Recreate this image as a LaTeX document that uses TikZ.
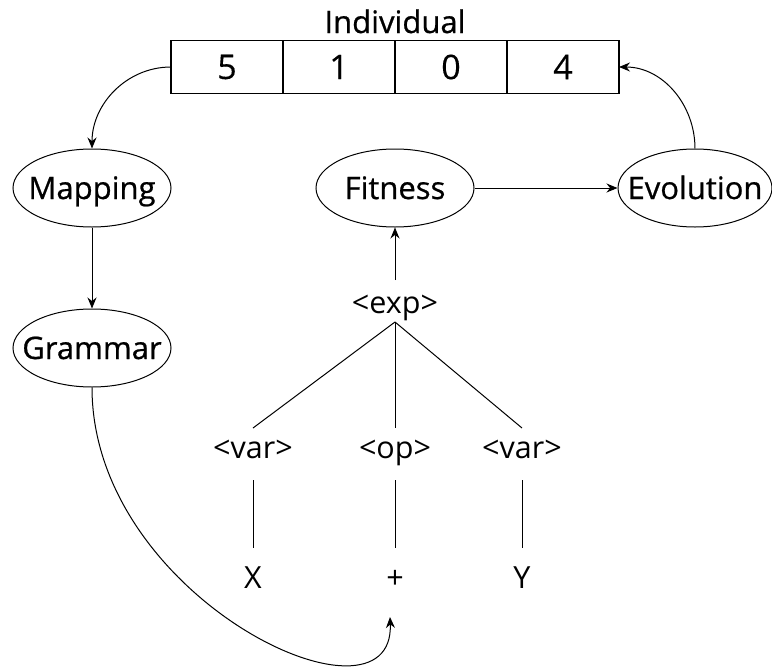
\documentclass[tikz,border=0pt]{standalone}
\usepackage{fontspec}
\setmainfont{Open Sans}
\newfontfamily\semib[FakeBold=0.7]{Open Sans}
\newfontfamily\medf[FakeBold=0.3]{Open Sans}
\usetikzlibrary{shapes.geometric,arrows.meta,calc}
\begin{document}
\begin{tikzpicture}[x=1pt,y=-1pt,
  every node/.style={font=\fontsize{30.5}{36}\selectfont},
  proc/.style={ellipse,draw,line width=1pt,inner sep=0pt,minimum width=158pt,minimum height=78pt},
  ptext/.style={inner sep=0pt,text height=26pt,text depth=4pt,font=\semib\fontsize{31}{36}\selectfont},
  cell/.style={rectangle,draw,line width=1.3pt,minimum width=112pt,minimum height=53pt,inner sep=0pt,outer sep=0pt,font=\medf\fontsize{34}{40}\selectfont},
  conn/.style={line width=1pt},
  arr/.style={conn,-{Stealth[length=11pt,width=9pt]}},
  lbl/.style={anchor=base,inner sep=0pt}]
\useasboundingbox (0,0) rectangle (772,667);
% individual
\node[cell] (c1) at (227,67) {5};
\node[cell] (c2) at (339,67) {1};
\node[cell] (c3) at (451,67) {0};
\node[cell] (c4) at (563,67) {4};
\node[ptext,text height=,text depth=,anchor=base] (title) at (395,33) {Individual};
% processes
\node[proc] (map) at (92,188) {};
\node[ptext] (mapt) at (map.center) {Mapping};
\node[proc] (gram) at (92,348) {};
\node[ptext] (gramt) at (gram.center) {Grammar};
\node[proc] (fit) at (395,188) {};
\node[ptext] (fitt) at (fit.center) {Fitness};
\node[proc,minimum width=154pt] (evo) at (695,188) {};
\node[ptext] (evot) at (evo.center) {Evolution};
% tree
\node[lbl] (exp) at (395,313) {<exp>};
\node[lbl] (v1) at (253,458) {<var>};
\node[lbl] (op) at (395,458) {<op>};
\node[lbl] (v2) at (522,458) {<var>};
\node[lbl] (x) at (253,588) {X};
\node[lbl] (plus) at (395,588) {+};
\node[lbl] (y) at (522,588) {Y};
% tree edges
\draw[conn] ($(exp.base)+(0,9)$) -- ($(v1.base)+(0,-30)$);
\draw[conn] ($(exp.base)+(0,9)$) -- ($(op.base)+(0,-30)$);
\draw[conn] ($(exp.base)+(0,9)$) -- ($(v2.base)+(0,-30)$);
\draw[conn] ($(v1.base)+(0,22)$) -- ($(x.base)+(0,-40)$);
\draw[conn] ($(op.base)+(0,22)$) -- ($(plus.base)+(0,-40)$);
\draw[conn] ($(v2.base)+(0,22)$) -- ($(y.base)+(0,-40)$);
% arrows
\draw[arr] ($(exp.base)+(0,-33)$) -- (fit.south);
\draw[arr] (fit.east) -- (evo.west);
\draw[arr] (map.south) -- (gram.north);
\draw[arr] (c1.west) to[out=180,in=90] (map.north);
\draw[arr] (evo.north) to[out=90,in=0] (c4.east);
\draw[arr] (gram.south) .. controls (92,600) and (395,740) .. ($(plus.base)+(-5,29)$);
\end{tikzpicture}
\end{document}
